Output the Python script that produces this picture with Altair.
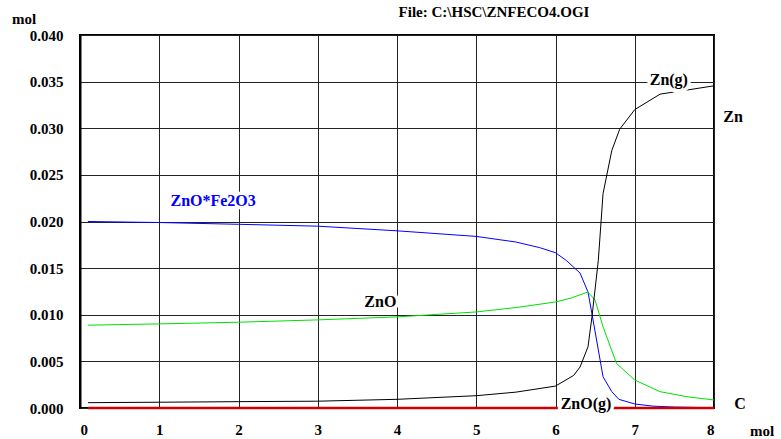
import altair as alt
import pandas as pd

# ---- data ----
x_blue = [0.1, 1, 2, 3, 4, 5, 5.5, 5.8, 6.0, 6.14, 6.31, 6.41, 6.46, 6.6, 6.71, 6.8, 7.0, 7.23, 7.5, 8.0]
y_blue = [0.0200, 0.01989, 0.0197, 0.0195, 0.0190, 0.0184, 0.0178, 0.0172, 0.01665, 0.0158,
          0.01447, 0.01244, 0.0101, 0.00335, 0.00175, 0.00093, 0.00043, 0.0002, 0.0001, 0.00003]

x_green = [0.1, 1, 2, 3, 4, 5, 5.5, 6.0, 6.2, 6.41, 6.5, 6.6, 6.77, 7.0, 7.32, 7.66, 8.0]
y_green = [0.00888, 0.00902, 0.0092, 0.00945, 0.00977, 0.0103, 0.01077, 0.01137, 0.0118,
           0.01244, 0.01155, 0.0087, 0.00478, 0.0030, 0.00175, 0.00121, 0.00086]

x_black = [0.1, 1, 2, 3, 4, 5, 5.5, 6.0, 6.23, 6.31, 6.41, 6.46, 6.54, 6.6, 6.71, 6.81, 7.0, 7.32, 7.66, 8.0]
y_black = [0.00057, 0.00062, 0.00068, 0.00073, 0.00093, 0.00132, 0.0017, 0.00235, 0.0035, 0.0044,
           0.00656, 0.00977, 0.0158, 0.0230, 0.0276, 0.0299, 0.0320, 0.03366, 0.0341, 0.03455]

x_red = [0.1, 8.0]
y_red = [0.0, 0.0]

label_text = ["ZnO*Fe2O3", "ZnO", "ZnO(g)", "C", "Zn", "Zn(g)"]
label_x = [1.68, 3.79, 6.385, 8.33, 8.24, 7.43]
label_y = [0.02225, 0.01134, 0.00043, 0.00043, 0.03123, 0.0352]
label_color = ["#0000ff", "#000000", "#000000", "#000000", "#000000", "#000000"]

x_ticks = [0, 1, 2, 3, 4, 5, 6, 7, 8]
y_ticks = [0, 0.005, 0.01, 0.015, 0.02, 0.025, 0.03, 0.035, 0.04]

FONT = "Times New Roman, Liberation Serif, DejaVu Serif, serif"
FS = 15

rows = []
for name, xs, ys in [("ZnO*Fe2O3", x_blue, y_blue), ("ZnO", x_green, y_green),
                     ("Zn(g)", x_black, y_black), ("C", x_red, y_red)]:
    for i, (a, b) in enumerate(zip(xs, ys)):
        rows.append({"series": name, "x": a, "y": b, "i": i})
df = pd.DataFrame(rows)

xs = alt.Scale(domain=[0, 8], nice=False, zero=False)
ys = alt.Scale(domain=[0, 0.04], nice=False)

xax = alt.Axis(values=x_ticks, format="d", title=None, grid=True, gridColor="#222", gridWidth=1,
               ticks=False, domain=False, labelFont=FONT, labelFontWeight="bold", labelFontSize=FS,
               labelPadding=14, labelColor="black")
yax = alt.Axis(values=y_ticks, format=".3f", title=None, grid=True, gridColor="#222", gridWidth=1,
               ticks=False, domainColor="black", domainWidth=2, labelFont=FONT,
               labelFontWeight="bold", labelFontSize=FS, labelPadding=17, labelColor="black")

lines = alt.Chart(df).transform_filter(alt.datum.series != "C").mark_line(strokeWidth=1, clip=False).encode(
    x=alt.X("x:Q", scale=xs, axis=xax),
    y=alt.Y("y:Q", scale=ys, axis=yax),
    color=alt.Color("series:N", scale=alt.Scale(domain=["ZnO*Fe2O3", "ZnO", "Zn(g)"],
                                               range=["#0000ff", "#00e000", "#000000"]), legend=None),
    order="i:Q",
)

red = alt.Chart(df).transform_filter(alt.datum.series == "C").mark_line(strokeWidth=2.5, color="#cc0000", clip=False).encode(
    x=alt.X("x:Q", scale=xs), y=alt.Y("y:Q", scale=ys), order="i:Q"
)

ldf = pd.DataFrame({"t": label_text, "x": label_x, "y": label_y, "c": label_color})

halo = alt.Chart(ldf).mark_text(font=FONT, fontWeight="bold", fontSize=16, stroke="white",
                                strokeWidth=7, fill="white", align="center", baseline="middle").encode(
    x=alt.X("x:Q", scale=xs), y=alt.Y("y:Q", scale=ys), text="t:N")
labels = alt.Chart(ldf).mark_text(font=FONT, fontWeight="bold", fontSize=16,
                                  align="center", baseline="middle").encode(
    x=alt.X("x:Q", scale=xs), y=alt.Y("y:Q", scale=ys), text="t:N",
    color=alt.Color("c:N", scale=None))

tdf = pd.DataFrame({"t": ["File: C:\\HSC\\ZNFECO4.OGI"]})
title = alt.Chart(tdf).mark_text(font=FONT, fontWeight="bold", fontSize=15, align="center",
                                 baseline="middle", color="black").encode(
    x=alt.value(414), y=alt.value(-23), text="t:N")
ymol = alt.Chart(pd.DataFrame({"t": ["mol"]})).mark_text(font=FONT, fontWeight="bold", fontSize=FS,
                                                        align="center", baseline="middle", color="black").encode(
    x=alt.value(-56), y=alt.value(-16), text="t:N")
xmol = alt.Chart(pd.DataFrame({"t": ["mol"]})).mark_text(font=FONT, fontWeight="bold", fontSize=FS,
                                                        align="center", baseline="middle", color="black").encode(
    x=alt.value(682), y=alt.value(396), text="t:N")

chart = alt.layer(lines, red, halo, labels, title, ymol, xmol).properties(
    width=634, height=373,
    autosize=alt.AutoSizeParams(type="none"),
    padding={"left": 80, "top": 35, "right": 67, "bottom": 31},
    background="white",
).configure_view(stroke="black", strokeWidth=2)

chart.save("out.html", embed_options={"renderer": "svg", "actions": False})
